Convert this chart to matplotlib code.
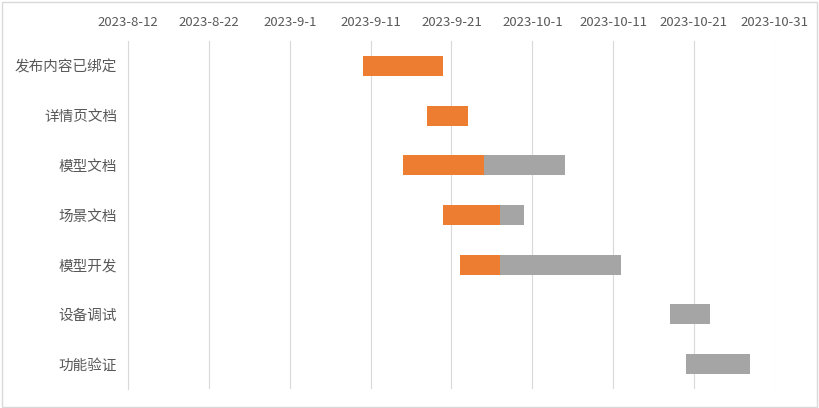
import matplotlib
matplotlib.use("Agg")
import matplotlib.pyplot as plt
import matplotlib.dates as mdates
from matplotlib.patches import Rectangle
import datetime as dt

plt.rcParams['font.family'] = ['Noto Sans CJK SC', 'DejaVu Sans']

tasks = ["发布内容已绑定", "详情页文档", "模型文档", "场景文档", "模型开发", "设备调试", "功能验证"]
start_dates = ["2023-09-10", "2023-09-18", "2023-09-15", "2023-09-20", "2023-09-22", "2023-10-18", "2023-10-20"]
done_days = [10, 5, 10, 7, 5, 0, 0]
remaining_days = [0, 0, 10, 3, 15, 5, 8]
tick_dates = ["2023-08-12", "2023-08-22", "2023-09-01", "2023-09-11", "2023-09-21",
              "2023-10-01", "2023-10-11", "2023-10-21", "2023-10-31"]
tick_labels = ["2023-8-12", "2023-8-22", "2023-9-1", "2023-9-11", "2023-9-21",
               "2023-10-1", "2023-10-11", "2023-10-21", "2023-10-31"]

def d2n(s):
    return mdates.date2num(dt.datetime.strptime(s, "%Y-%m-%d"))

starts = [d2n(s) for s in start_dates]
done_end = [s + d for s, d in zip(starts, done_days)]

fig = plt.figure(figsize=(8.19, 4.08), dpi=100)
ax = fig.add_axes([128.3 / 819, 1 - 389 / 408, (774.7 - 128.3) / 819, 348 / 408])

y = list(range(len(tasks)))
ax.barh(y, done_days, left=starts, height=0.4, color="#ED7D31", zorder=3)
ax.barh(y, remaining_days, left=done_end, height=0.4, color="#A5A5A5", zorder=3)

ax.set_ylim(len(tasks) - 0.5, -0.5)
ax.set_yticks(y)
ax.set_yticklabels(tasks, fontsize=10.5, color="#595959")

ticks = [d2n(t) for t in tick_dates]
ax.set_xlim(ticks[0], ticks[-1])
ax.set_xticks(ticks)
ax.set_xticklabels(tick_labels, fontsize=9.5, color="#595959")
ax.xaxis.tick_top()
ax.tick_params(axis='x', length=0, pad=9)
ax.tick_params(axis='y', length=0, pad=8)
ax.grid(axis='x', color="#D9D9D9", linewidth=0.8, zorder=0)
for s in ["top", "right", "bottom"]:
    ax.spines[s].set_visible(False)
ax.spines["left"].set_color("#D9D9D9")
ax.spines["left"].set_linewidth(0.8)

fig.patches.append(Rectangle((0.002, 0.003), 0.995, 0.993, transform=fig.transFigure,
                             fill=False, edgecolor="#D9D9D9", linewidth=1))

fig.savefig("out.png", dpi=100, facecolor="white")
